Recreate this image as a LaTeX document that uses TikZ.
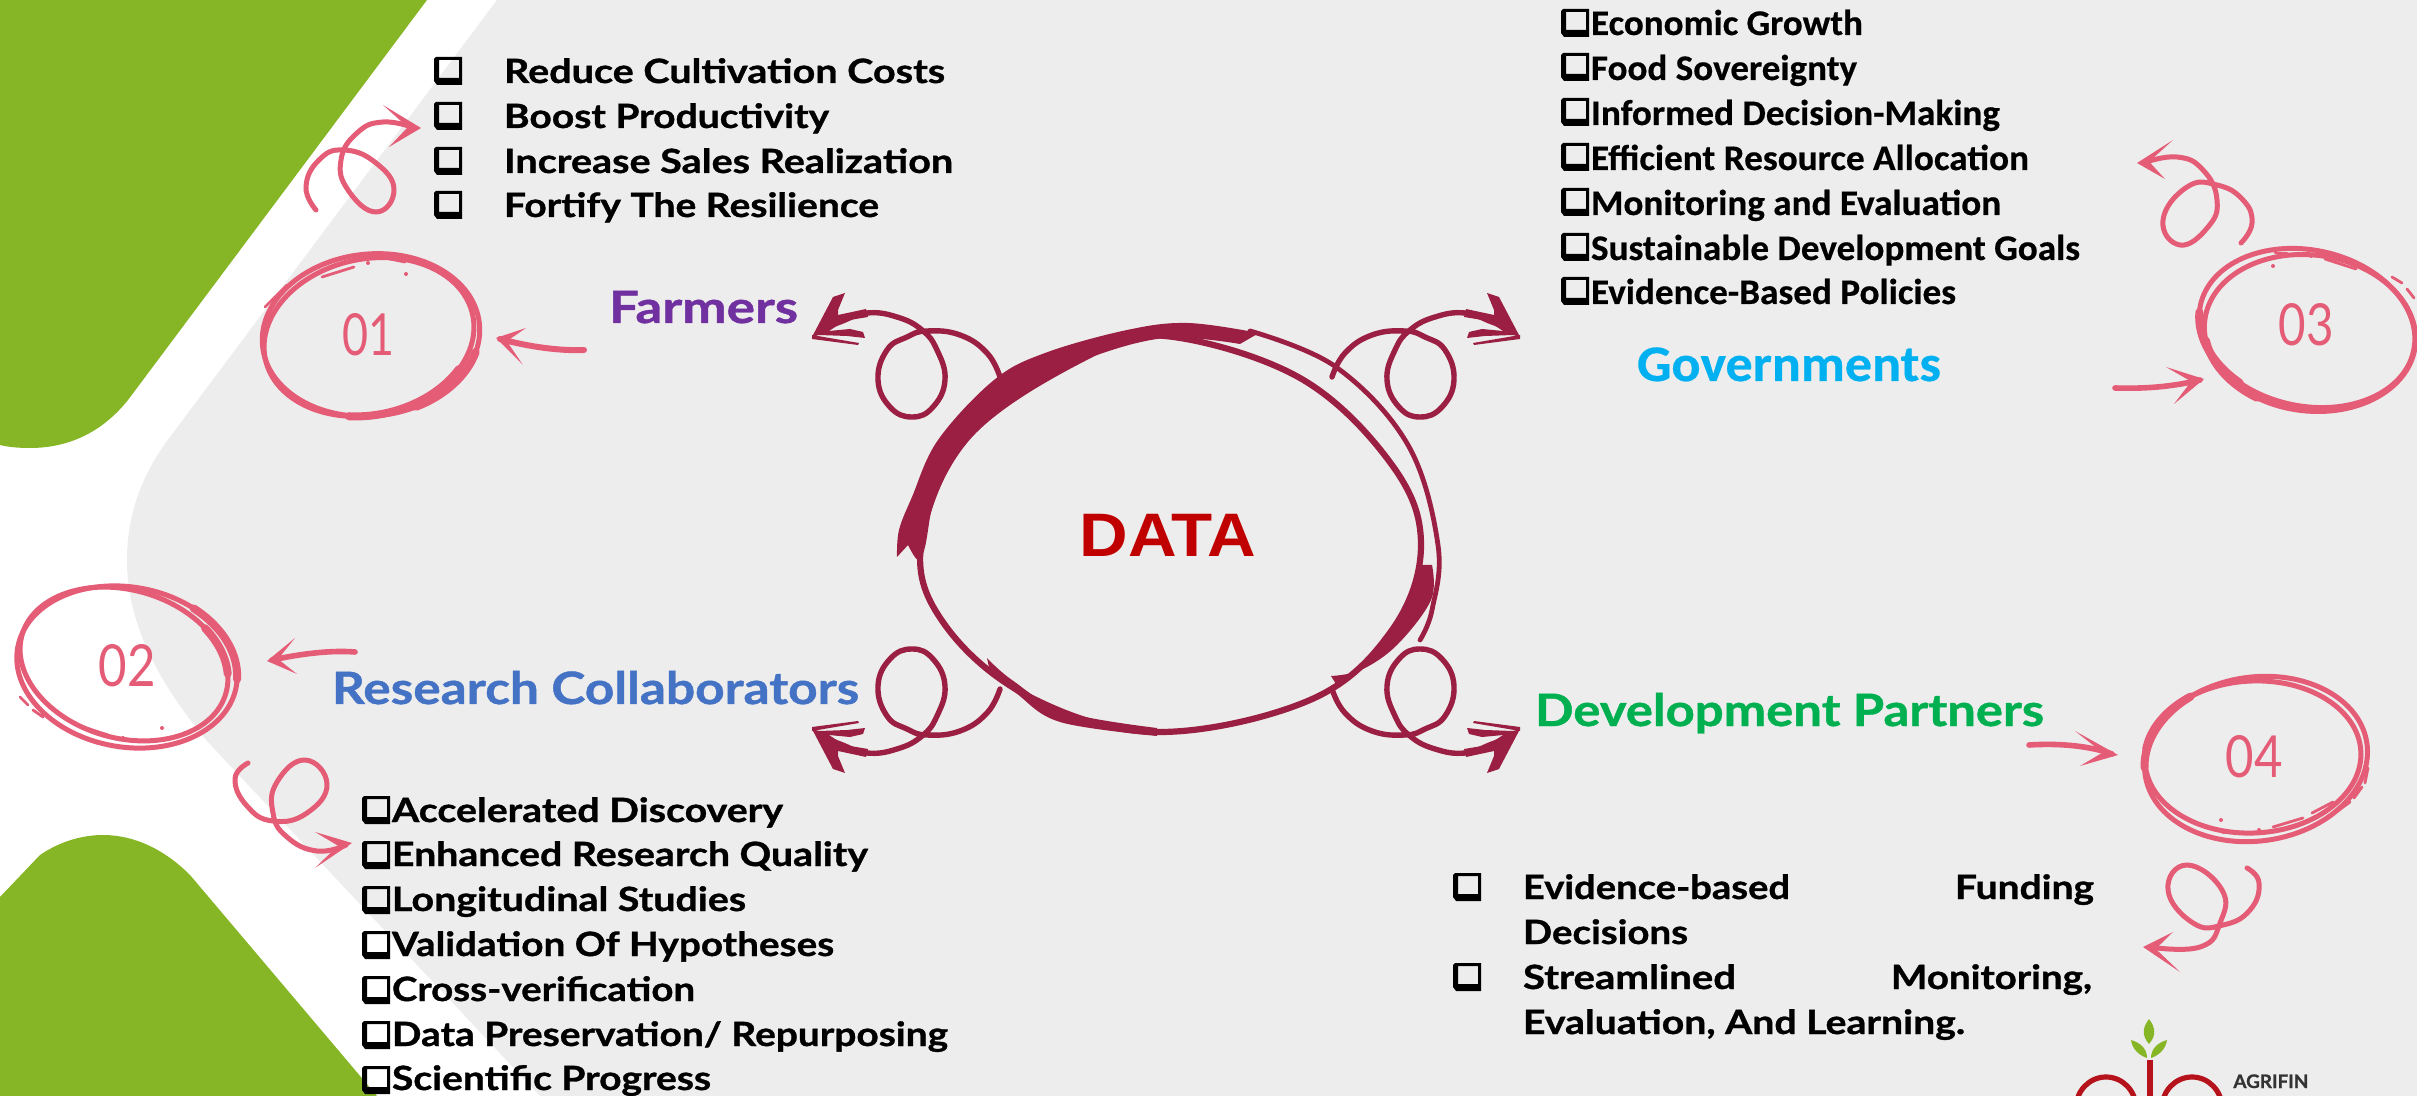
\documentclass[tikz,border=0pt]{standalone}
\usepackage{fontspec}
\usepackage{graphicx}
\usetikzlibrary{calc}
\setmainfont{Lato}[BoldFeatures={FakeBold=0.9}]
\newfontfamily\carl{Carlito}[BoldFeatures={FakeBold=0.5}]
\newfontfamily\arl{Liberation Sans}
\definecolor{bggrey}{HTML}{EDEDED}
\definecolor{leaf}{HTML}{86B625}
\definecolor{pinkk}{HTML}{E45C76}
\definecolor{wine}{HTML}{9B1F42}
\definecolor{farm}{HTML}{7030A0}
\definecolor{rese}{HTML}{4472C4}
\definecolor{govt}{HTML}{00B0F0}
\definecolor{devp}{HTML}{00B050}
\definecolor{datr}{HTML}{C00000}
\definecolor{logor}{HTML}{B5121B}
\newsavebox{\fitbox}
\newcommand{\fitw}[2]{\sbox{\fitbox}{#2}\pgfmathsetmacro{\fitr}{#1*0.5/\the\wd\fitbox}\scalebox{\fitr}[1]{\usebox{\fitbox}}}
% style, name, x, baseline y, width, text
\newcommand{\lbl}[6]{\node[lab,#1] (#2) at (#3,#4) {\fitw{#5}{#6}};}
\newcommand{\bul}[2]{\fill[black,even odd rule,shift={(#1,#2)}] (2,0) -- (28,0) -- (28,28) -- (3,28) -- (0,24) -- (0,2) -- cycle (5,3) -- (25,3) -- (25,21) -- (5,21) -- cycle;}
% tip, barb, barb
\newcommand{\head}[4][pinkk]{\fill[#1] #2 -- #3 -- ($#2!.38!($#3!.5!#4$)$) -- #4 -- cycle;}
% wine curl, in a frame centred on the ring
\newcommand{\curl}[2]{\begin{scope}[shift={(1166,533)},xscale=#1,yscale=#2]
\draw[wline] plot[smooth,tension=.75] coordinates {(-166,-156) (-179,-180) (-206,-198) (-239,-202) (-259,-196) (-279,-183) (-288,-153) (-276,-126) (-254,-116) (-233,-126) (-221,-153) (-229,-183) (-244,-203) (-269,-216) (-299,-220) (-326,-211) (-346,-203)};
\fill[wine] (-354,-196) -- (-333,-236) -- (-321,-240) -- (-328,-223) -- (-328,-218) -- (-300,-224) -- (-298,-216) -- (-322,-212) -- (-340,-200) -- cycle;
\fill[wine] (-348,-201) -- (-316,-204) -- (-303,-201) -- (-301,-195) -- (-319,-197) -- (-347,-198) -- cycle;
\fill[wine] (-354,-198) -- (-307,-190) -- (-308,-188) -- (-354,-194) -- cycle;
\end{scope}}
% cx, cy, rx, ry, rotation, thick arc from, to
\newcommand{\ring}[7]{\begin{scope}[shift={(#1,#2)},rotate=#5]
\draw[pline] (0,0) ellipse [x radius=#3,y radius=#4];
\draw[pline,line width=4pt,line cap=round] (#6:#3 and #4) arc [start angle=#6,end angle=#7,x radius=#3,y radius=#4];
\end{scope}}
\newcommand{\flecks}[1]{\foreach \a/\b in {#1} {\fill[pinkk] (\a,\b) circle (2);}}
\newcommand{\dashes}[1]{\foreach \a/\b/\c/\d in {#1} {\draw[pinkk,line width=1.4pt,line cap=round] (\a,\b) -- (\c,\d);}}
\tikzset{
 x=0.5pt,y=-0.5pt,
 lab/.style={anchor=base west,inner sep=0pt,outer sep=0pt},
 gl/.style={font=\bfseries\fontsize{16.7pt}{18pt}\selectfont,text=black},
 cl/.style={font=\carl\bfseries\fontsize{18pt}{20pt}\selectfont,text=black},
 head1/.style={font=\bfseries\fontsize{22.3pt}{24pt}\selectfont},
 num/.style={anchor=center,inner sep=0pt,font=\fontsize{29pt}{30pt}\selectfont,text=pinkk},
 pline/.style={draw=pinkk,line width=2.5pt,line cap=round,line join=round},
 wline/.style={draw=wine,line width=2.7pt,line cap=round,line join=round},
}
\begin{document}
\begin{tikzpicture}
\clip (0,0) rectangle (2417,1096);
\fill[white] (0,0) rectangle (2417,1096);
% grey panel
\fill[bggrey] (497,0) -- (2417,0) -- (2417,1096) -- (540,1096) -- (207,741) .. controls (165,690) and (127,630) .. (127,560) .. controls (127,510) and (145,470) .. (170,437) -- cycle;
% green corners
\fill[leaf] (0,0) -- (427,0) -- (128,400) .. controls (100,435) and (65,448) .. (30,448) .. controls (18,448) and (8,447) .. (0,445) -- cycle;
\fill[leaf] (0,897) -- (40,855) .. controls (62,840) and (85,835) .. (103,835) .. controls (135,835) and (165,850) .. (190,875) -- (377,1096) -- (0,1096) -- cycle;
% central ring
\draw[wline,line width=3.1pt] plot[smooth cycle,tension=.62] coordinates {(921,545) (968,437) (1086,357) (1165,336) (1300,378) (1392,465) (1421,545) (1392,630) (1310,700) (1157,732) (1030,697) (945,625)};
\draw[wline,line width=2.4pt] plot[smooth,tension=.62] coordinates {(1250,331) (1336,367) (1408,445) (1438,545) (1432,610) (1420,640)};
\fill[wine] plot[smooth,tension=.6] coordinates {(897,557) (899,530) (912,497) (938,440) (994,380) (1045,353) (1127,330) (1188,323) (1259,333)} -- plot[smooth,tension=.6] coordinates {(1240,344) (1165,338) (1086,359) (1019,392) (968,439) (938,482) (925,547) (918,560) (908,545)} -- cycle;
\fill[wine] plot[smooth,tension=.6] coordinates {(1432,565) (1431,600) (1397,645) (1361,670) (1331,676)} -- plot[smooth,tension=.6] coordinates {(1336,684) (1377,650) (1408,600) (1420,565)} -- cycle;
\fill[wine] plot[smooth,tension=.6] coordinates {(987,658) (1012,680) (1065,712) (1157,728)} -- plot[smooth,tension=.6] coordinates {(1157,736) (1060,722) (1016,693) (990,672)} -- cycle;
\curl{1}{1}\curl{-1}{1}\curl{1}{-1}\curl{-1}{-1}
\node[anchor=base west,inner sep=0pt,text=datr,font=\arl\bfseries\fontsize{30.7pt}{32pt}\selectfont] (data) at (1079,557) {\fitw{177}{DATA}};
% numbered circles
\ring{371}{335}{109}{81}{6}{20}{70}
\ring{369}{337}{106}{78}{12}{40}{110}
\node[num] (n1) at (368,335) {\fitw{52}{01}};
\ring{127}{667}{111}{80}{-10}{-60}{-5}
\ring{124}{664}{106}{74}{-16}{-50}{-15}
\node[num] (n2) at (127,666) {\fitw{57}{02}};
\ring{2307}{328}{109}{78}{-12}{120}{175}
\ring{2310}{333}{106}{78}{-7}{115}{165}
\node[num] (n3) at (2306,325) {\fitw{55}{03}};
\ring{2256}{759}{112}{82}{8}{185}{240}
\ring{2253}{757}{108}{76}{3}{190}{235}
\node[num] (n4) at (2254,757) {\fitw{57}{04}};
\flecks{368/263,406/274,123/738,162/728,2273/266,2311/256,2221/820,2259/830}
\dashes{322/277/354/267,265/307/287/285,385/258/405/262,20/697/28/705,33/710/43/717,80/726/108/735,148/741/158/741,2325/259/2356/269,2275/253/2287/253,2392/277/2402/283,2407/289/2414/298,2273/827/2303/818,2312/813/2333/802,2339/810/2350/802,2354/798/2362/787,2365/783/2368/768,2223/833/2235/833}
% short pink arrows
\draw[pline,line width=3pt] (584,350) .. controls (560,351) and (530,347) .. (500,339);
\head{(496,338)}{(526,328)}{(523,365)}
\draw[pline,line width=2.8pt] (355,652) .. controls (330,650) and (300,654) .. (272,660);
\head{(267,661)}{(295,638)}{(297,674)}
\draw[pline,line width=2.8pt] (2115,388) .. controls (2150,389) and (2175,386) .. (2200,380);
\head{(2204,379)}{(2166,367)}{(2174,404)}
\draw[pline,line width=2.8pt] (2029,745) .. controls (2060,743) and (2090,746) .. (2112,754);
\head{(2118,755)}{(2075,731)}{(2080,766)}
% pink curls
\draw[pline] plot[smooth,tension=.8] coordinates {(316,210) (306,187) (319,160) (344,150) (376,163) (394,190) (376,212) (348,190) (341,160) (357,133) (383,122) (415,128)};
\head{(421,128)}{(383,105)}{(389,147)}
\draw[pline] plot[smooth,tension=.8] coordinates {(248,763) (235,779) (247,806) (273,821) (307,813) (327,784) (305,760) (277,782) (273,813) (287,837) (317,851) (346,845)};
\head{(352,843)}{(315,832)}{(315,868)}
\draw[pline] plot[smooth,tension=.8] coordinates {(2241,243) (2252,223) (2243,200) (2217,185) (2187,187) (2163,220) (2180,245) (2208,227) (2217,200) (2203,170) (2177,157) (2143,163)};
\head{(2137,163)}{(2173,140)}{(2165,179)}
\draw[pline] plot[smooth,tension=.8] coordinates {(2247,868) (2259,883) (2250,910) (2223,925) (2193,923) (2168,890) (2187,865) (2222,890) (2220,923) (2200,947) (2149,947)};
\head{(2143,947)}{(2173,932)}{(2180,972)}
% headings
\lbl{head1,text=farm}{farmers}{609}{323}{189}{Farmers}
\lbl{head1,text=rese}{research}{332}{704}{527}{Research Collaborators}
\lbl{head1,text=devp}{develop}{1535}{726}{509}{Development Partners}
\lbl{font=\carl\bfseries\fontsize{25.6pt}{27pt}\selectfont,text=govt}{govern}{1637}{381}{304}{Governments}
% farmers list
\bul{434}{57}\bul{434}{102}\bul{434}{147}\bul{434}{191}
\lbl{gl}{f1}{504}{83}{441}{Reduce Cultivation Costs}
\lbl{gl}{f2}{504}{128}{325}{Boost Productivity}
\lbl{gl}{f3}{504}{173}{449}{Increase Sales Realization}
\lbl{gl}{f4}{504}{217}{375}{Fortify The Resilience}
% governments list
\bul{1561}{9}\bul{1561}{53}\bul{1561}{98}\bul{1561}{143}\bul{1561}{188}\bul{1561}{233}\bul{1561}{277}
\lbl{cl}{g1}{1591}{35}{272}{Economic Growth}
\lbl{cl}{g2}{1591}{80}{266}{Food Sovereignty}
\lbl{cl}{g3}{1591}{125}{409}{Informed Decision-Making}
\lbl{cl}{g4}{1591}{170}{438}{Efficient Resource Allocation}
\lbl{cl}{g5}{1591}{215}{410}{Monitoring and Evaluation}
\lbl{cl}{g6}{1591}{260}{489}{Sustainable Development Goals}
\lbl{cl}{g7}{1591}{304}{365}{Evidence-Based Policies}
% research list
\bul{362}{796}\bul{362}{841}\bul{362}{886}\bul{362}{931}\bul{362}{976}\bul{362}{1021}\bul{362}{1066}
\lbl{gl}{r1}{392}{822}{391}{Accelerated Discovery}
\lbl{gl}{r2}{392}{866}{476}{Enhanced Research Quality}
\lbl{gl}{r3}{392}{911}{354}{Longitudinal Studies}
\lbl{gl}{r4}{392}{956}{442}{Validation Of Hypotheses}
\lbl{gl}{r5}{392}{1001}{303}{Cross-verification}
\lbl{gl}{r6}{392}{1046}{556}{Data Preservation/ Repurposing}
\lbl{gl}{r7}{392}{1090}{319}{Scientific Progress}
% development list
\bul{1453}{873}\bul{1453}{963}
\lbl{gl}{d1}{1523}{899}{267}{Evidence-based}
\lbl{gl}{d1b}{1955}{899}{139}{Funding}
\lbl{gl}{d2}{1523}{944}{165}{Decisions}
\lbl{gl}{d3}{1523}{989}{213}{Streamlined}
\lbl{gl}{d3b}{1891}{989}{201}{Monitoring,}
\lbl{gl}{d4}{1523}{1034}{442}{Evaluation, And Learning.}
% logo
\fill[leaf] (2149,1019) .. controls (2142,1028) and (2142,1036) .. (2149,1044) .. controls (2156,1036) and (2156,1028) .. (2149,1019) -- cycle;
\fill[leaf] (2131,1040) .. controls (2132,1048) and (2138,1055) .. (2147,1058) .. controls (2147,1049) and (2141,1043) .. (2131,1040) -- cycle;
\fill[leaf] (2167,1040) .. controls (2166,1048) and (2160,1055) .. (2151,1058) .. controls (2151,1049) and (2157,1043) .. (2167,1040) -- cycle;
\fill[logor] (2147,1060) rectangle (2153,1096);
\draw[logor,line width=2.6pt] (2106,1108) ellipse [x radius=30,y radius=31];
\draw[logor,line width=2.6pt] (2192,1108) ellipse [x radius=30,y radius=31];
\node[anchor=base west,inner sep=0pt,text=black!80,font=\bfseries\fontsize{9.3pt}{10pt}\selectfont] (logo) at (2233,1088) {\fitw{75}{AGRIFIN}};
\end{tikzpicture}
\end{document}
